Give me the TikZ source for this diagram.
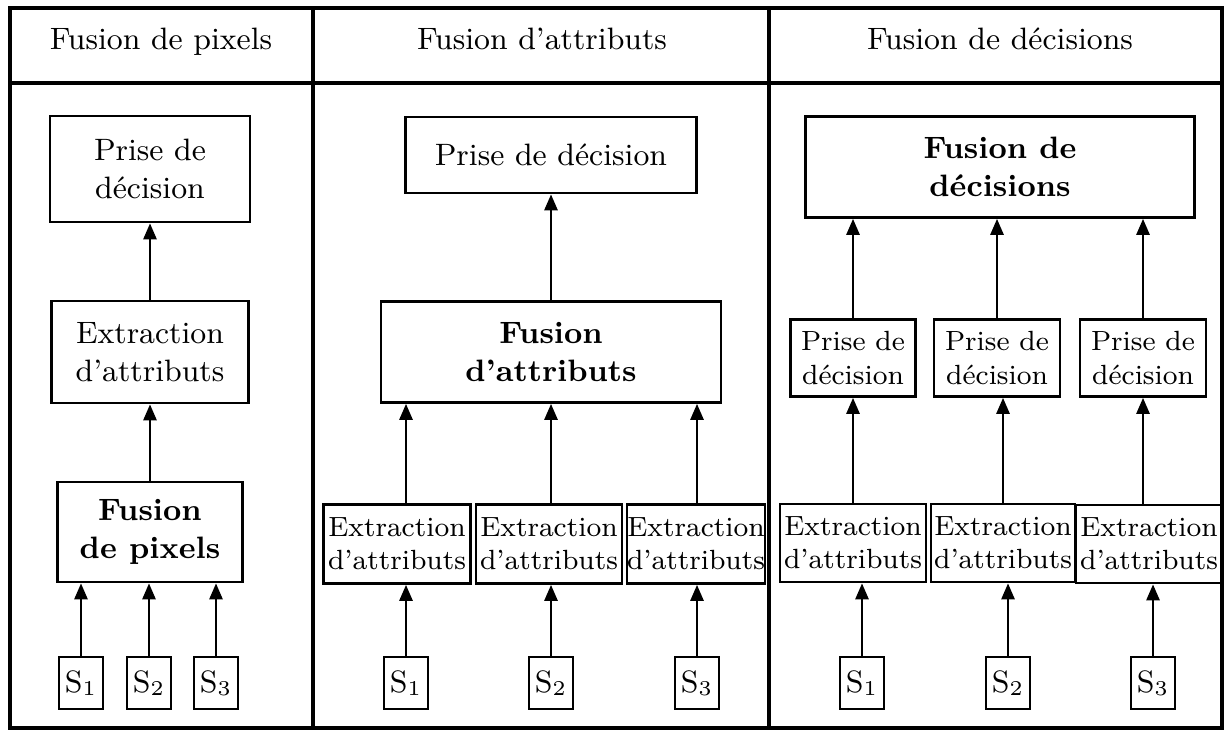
\documentclass[tikz,border=0pt]{standalone}
\usepackage{fontspec}
\usepackage{tikz}
\usetikzlibrary{arrows.meta}

\begin{document}
\begin{tikzpicture}[>={Triangle[length=0.16cm, width=0.13cm]}, line width=0.75pt, font=\fontsize{8.8}{10.8}\selectfont]
		\tikzset{bx/.style={draw, align=center, inner sep=0pt}}
		\tikzset{sm/.style={bx, font=\fontsize{7.9}{9.4}\selectfont}}
		\tikzset{sb/.style={bx, minimum width=0.44cm, minimum height=0.52cm}}
		\useasboundingbox (0,0) rectangle (12.25,7.32);
		% frame and columns
		\draw[line width=1.3pt] (0.10,0.04) rectangle (12.22,7.24);
		\draw[line width=1.3pt] (0.10,6.49) -- (12.22,6.49);
		\draw[line width=1.3pt] (3.13,0.04) -- (3.13,7.24);
		\draw[line width=1.3pt] (7.69,0.04) -- (7.69,7.24);
		% column heads
		\node[anchor=base] (h1) at (1.61,6.83) {Fusion de pixels};
		\node[anchor=base] (h2) at (5.42,6.83) {Fusion d'attributs};
		\node[anchor=base] (h3) at (10.00,6.83) {Fusion de décisions};
		% fusion de pixels
		\node[bx, minimum width=2.00cm, minimum height=1.06cm] (pd1) at (1.50,5.63) {Prise de\\décision};
		\node[bx, minimum width=1.97cm, minimum height=1.02cm] (ea1) at (1.50,3.80) {Extraction\\d'attributs};
		\node[bx, minimum width=1.85cm, minimum height=1.00cm, font=\fontsize{8.8}{10.8}\selectfont\bfseries] (fp1) at (1.50,2.00) {Fusion\\de pixels};
		\node[sb] (s11) at (0.81,0.49) {S$_1$}; \node[sb] (s12) at (1.49,0.49) {S$_2$}; \node[sb] (s13) at (2.16,0.49) {S$_3$};
		\draw[->] (s11) -- (s11 |- fp1.south);
		\draw[->] (s12) -- (s12 |- fp1.south);
		\draw[->] (s13) -- (s13 |- fp1.south);
		\draw[->] (fp1) -- (ea1);
		\draw[->] (ea1) -- (pd1);
		% fusion d'attributs
		\node[bx, minimum width=2.91cm, minimum height=0.76cm] (pd2) at (5.51,5.77) {Prise de décision};
		\node[bx, minimum width=3.40cm, minimum height=1.01cm, font=\fontsize{8.8}{10.8}\selectfont\bfseries] (fa2) at (5.51,3.80) {Fusion\\d'attributs};
		\node[sm, minimum width=1.47cm, minimum height=0.79cm] (ea21) at (3.97,1.88) {Extraction\\d'attributs};
		\node[sm, minimum width=1.46cm, minimum height=0.79cm] (ea22) at (5.49,1.88) {Extraction\\d'attributs};
		\node[sm, minimum width=1.37cm, minimum height=0.79cm] (ea23) at (6.96,1.88) {Extraction\\d'attributs};
		\node[sb] (s21) at (4.06,0.49) {S$_1$}; \node[sb] (s22) at (5.51,0.49) {S$_2$}; \node[sb] (s23) at (6.97,0.49) {S$_3$};
		\draw[->] (s21) -- (s21 |- ea21.south);
		\draw[->] (s22) -- (s22 |- ea22.south);
		\draw[->] (s23) -- (s23 |- ea23.south);
		\draw[->] (s21 |- ea21.north) -- (s21 |- fa2.south);
		\draw[->] (s22 |- ea22.north) -- (s22 |- fa2.south);
		\draw[->] (s23 |- ea23.north) -- (s23 |- fa2.south);
		\draw[->] (fa2) -- (pd2);
		% fusion de decisions
		\node[bx, minimum width=3.89cm, minimum height=1.01cm, font=\fontsize{8.8}{10.8}\selectfont\bfseries] (fd3) at (10.00,5.65) {Fusion de\\décisions};
		\node[sm, minimum width=1.25cm, minimum height=0.77cm] (pd31) at (8.53,3.74) {Prise de\\décision};
		\node[sm, minimum width=1.26cm, minimum height=0.77cm] (pd32) at (9.97,3.74) {Prise de\\décision};
		\node[sm, minimum width=1.26cm, minimum height=0.77cm] (pd33) at (11.43,3.74) {Prise de\\décision};
		\node[sm, minimum width=1.46cm, minimum height=0.78cm] (ea31) at (8.53,1.89) {Extraction\\d'attributs};
		\node[sm, minimum width=1.44cm, minimum height=0.78cm] (ea32) at (10.03,1.89) {Extraction\\d'attributs};
		\node[sm, minimum width=1.46cm, minimum height=0.78cm] (ea33) at (11.49,1.88) {Extraction\\d'attributs};
		\node[sb] (s31) at (8.62,0.49) {S$_1$}; \node[sb] (s32) at (10.08,0.49) {S$_2$}; \node[sb] (s33) at (11.53,0.49) {S$_3$};
		\draw[->] (s31) -- (s31 |- ea31.south);
		\draw[->] (s32) -- (s32 |- ea32.south);
		\draw[->] (s33) -- (s33 |- ea33.south);
		\draw[->] (pd31 |- ea31.north) -- (pd31.south);
		\draw[->] (ea32.north) -- (ea32 |- pd32.south);
		\draw[->] (pd33 |- ea33.north) -- (pd33.south);
		\draw[->] (pd31) -- (pd31 |- fd3.south);
		\draw[->] (pd32) -- (pd32 |- fd3.south);
		\draw[->] (pd33) -- (pd33 |- fd3.south);
	\end{tikzpicture}
\end{document}
